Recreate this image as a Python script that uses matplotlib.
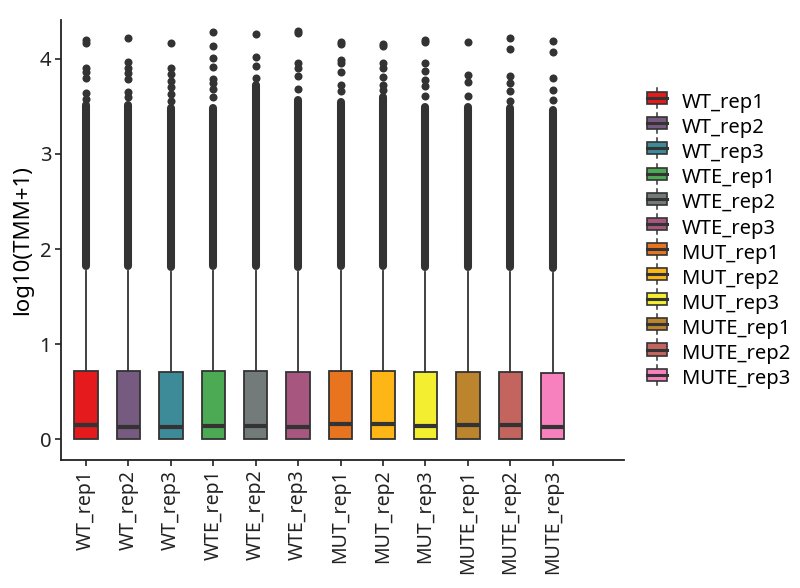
import numpy as np
import matplotlib
matplotlib.use("Agg")
import matplotlib.pyplot as plt
from matplotlib.legend_handler import HandlerBase
from matplotlib.patches import Rectangle
from matplotlib.lines import Line2D

plt.rcParams['font.family'] = ['Noto Sans', 'DejaVu Sans']

# samples and fill colours
samples = ['WT_rep1', 'WT_rep2', 'WT_rep3', 'WTE_rep1', 'WTE_rep2', 'WTE_rep3',
           'MUT_rep1', 'MUT_rep2', 'MUT_rep3', 'MUTE_rep1', 'MUTE_rep2', 'MUTE_rep3']
colors = ['#E41A1C', '#765A80', '#3D8A99', '#4DAA54', '#737B7A', '#A6567F',
          '#E9741F', '#FDB616', '#F4EE30', '#BC842D', '#C4645F', '#F781BF']

# box statistics (log10(TMM+1))
q1 = [0, 0, 0, 0, 0, 0, 0, 0, 0, 0, 0, 0]
med = [0.15, 0.13, 0.13, 0.14, 0.14, 0.13, 0.155, 0.155, 0.14, 0.15, 0.15, 0.13]
q3 = [0.72, 0.72, 0.71, 0.72, 0.72, 0.71, 0.72, 0.72, 0.71, 0.71, 0.71, 0.70]
whis_hi = [1.77, 1.77, 1.76, 1.77, 1.77, 1.76, 1.77, 1.77, 1.76, 1.76, 1.76, 1.75]

# outliers: a solid run of points, then scattered ones above it
dense_lo = [1.82, 1.82, 1.81, 1.82, 1.82, 1.81, 1.82, 1.82, 1.81, 1.81, 1.81, 1.80]
dense_hi = [3.52, 3.52, 3.48, 3.48, 3.73, 3.57, 3.55, 3.60, 3.49, 3.49, 3.48, 3.46]
sparse = [
    [4.20, 4.17, 3.91, 3.86, 3.80, 3.64, 3.58],
    [4.22, 3.97, 3.91, 3.85, 3.79, 3.65, 3.60],
    [4.17, 3.91, 3.84, 3.77, 3.70, 3.63, 3.56],
    [4.28, 4.14, 4.01, 3.92, 3.79, 3.75, 3.68, 3.60],
    [4.26, 4.02, 3.93, 3.80],
    [4.29, 4.27, 3.96, 3.91, 3.82, 3.68],
    [4.18, 4.16, 3.99, 3.96, 3.86, 3.73, 3.66],
    [4.16, 4.14, 3.96, 3.91, 3.81, 3.73, 3.67],
    [4.20, 4.18, 3.96, 3.87, 3.78, 3.72, 3.61],
    [4.18, 3.83, 3.76, 3.61],
    [4.22, 4.10, 3.82, 3.75, 3.66, 3.56],
    [4.19, 4.07, 3.80, 3.67, 3.57],
]

edge = '#333333'
pos = np.arange(1, len(samples) + 1)

fig = plt.figure(figsize=(8, 5.88), dpi=100)
ax = fig.add_axes([61 / 800, 128 / 588, 563 / 800, 440 / 588])

stats = []
for i in range(len(samples)):
    stats.append({'q1': q1[i], 'med': med[i], 'q3': q3[i],
                  'whislo': q1[i], 'whishi': whis_hi[i], 'fliers': []})

bp = ax.bxp(stats, positions=pos, widths=0.55, patch_artist=True,
            showcaps=False, showfliers=False,
            boxprops=dict(edgecolor=edge, linewidth=1.3),
            whiskerprops=dict(color=edge, linewidth=1.3),
            medianprops=dict(color=edge, linewidth=3.0, solid_capstyle='butt'))
for patch, c in zip(bp['boxes'], colors):
    patch.set_facecolor(c)

# solid run of outliers
ax.vlines(pos, dense_lo, dense_hi, colors=edge, linewidth=5.8, capstyle='round', zorder=3)
# scattered outliers
for p, vals in zip(pos, sparse):
    ax.plot([p] * len(vals), vals, 'o', color=edge, markersize=5.8, markeredgewidth=0, zorder=3)

ax.set_xlim(0.41, 13.68)
ax.set_ylim(-0.22, 4.41)
ax.set_yticks([0, 1, 2, 3, 4])
ax.set_xticks(pos)
ax.set_xticklabels(samples, rotation=90, fontsize=14, color='#222222')
ax.tick_params(axis='y', labelsize=14.5, labelcolor='#222222')
ax.tick_params(length=4, width=1.2, color='#222222', pad=3)
ax.set_ylabel('log10(TMM+1)', fontsize=16, color='black', labelpad=5)
for s in ['top', 'right']:
    ax.spines[s].set_visible(False)
for s in ['left', 'bottom']:
    ax.spines[s].set_linewidth(1.3)
    ax.spines[s].set_color('#222222')


class BoxKey(HandlerBase):
    def create_artists(self, legend, orig, xd, yd, w, h, fs, trans):
        c = orig.get_facecolor()
        cx = xd + w / 2
        bh = h * 0.72
        by = yd + (h - bh) / 2
        wlo = Line2D([cx, cx], [yd - 0.1 * h, by], color=edge, lw=1.1, transform=trans)
        whi = Line2D([cx, cx], [by + bh, yd + 1.1 * h], color=edge, lw=1.1, transform=trans)
        box = Rectangle((xd, by), w, bh, facecolor=c, edgecolor=edge, lw=1.2, transform=trans)
        mid = Line2D([xd, xd + w], [yd + h / 2, yd + h / 2], color=edge, lw=2.2, transform=trans)
        return [wlo, whi, box, mid]


handles = [Rectangle((0, 0), 1, 1, facecolor=c) for c in colors]
leg = fig.legend(handles, samples, handler_map={Rectangle: BoxKey()},
                 loc='center left', bbox_to_anchor=(647 / 800, 1 - 241 / 588),
                 frameon=False, fontsize=14.5, handlelength=1.0, handleheight=0.9,
                 handletextpad=0.75, labelspacing=0.24, borderaxespad=0, borderpad=0)

fig.savefig('out.png', dpi=100)
